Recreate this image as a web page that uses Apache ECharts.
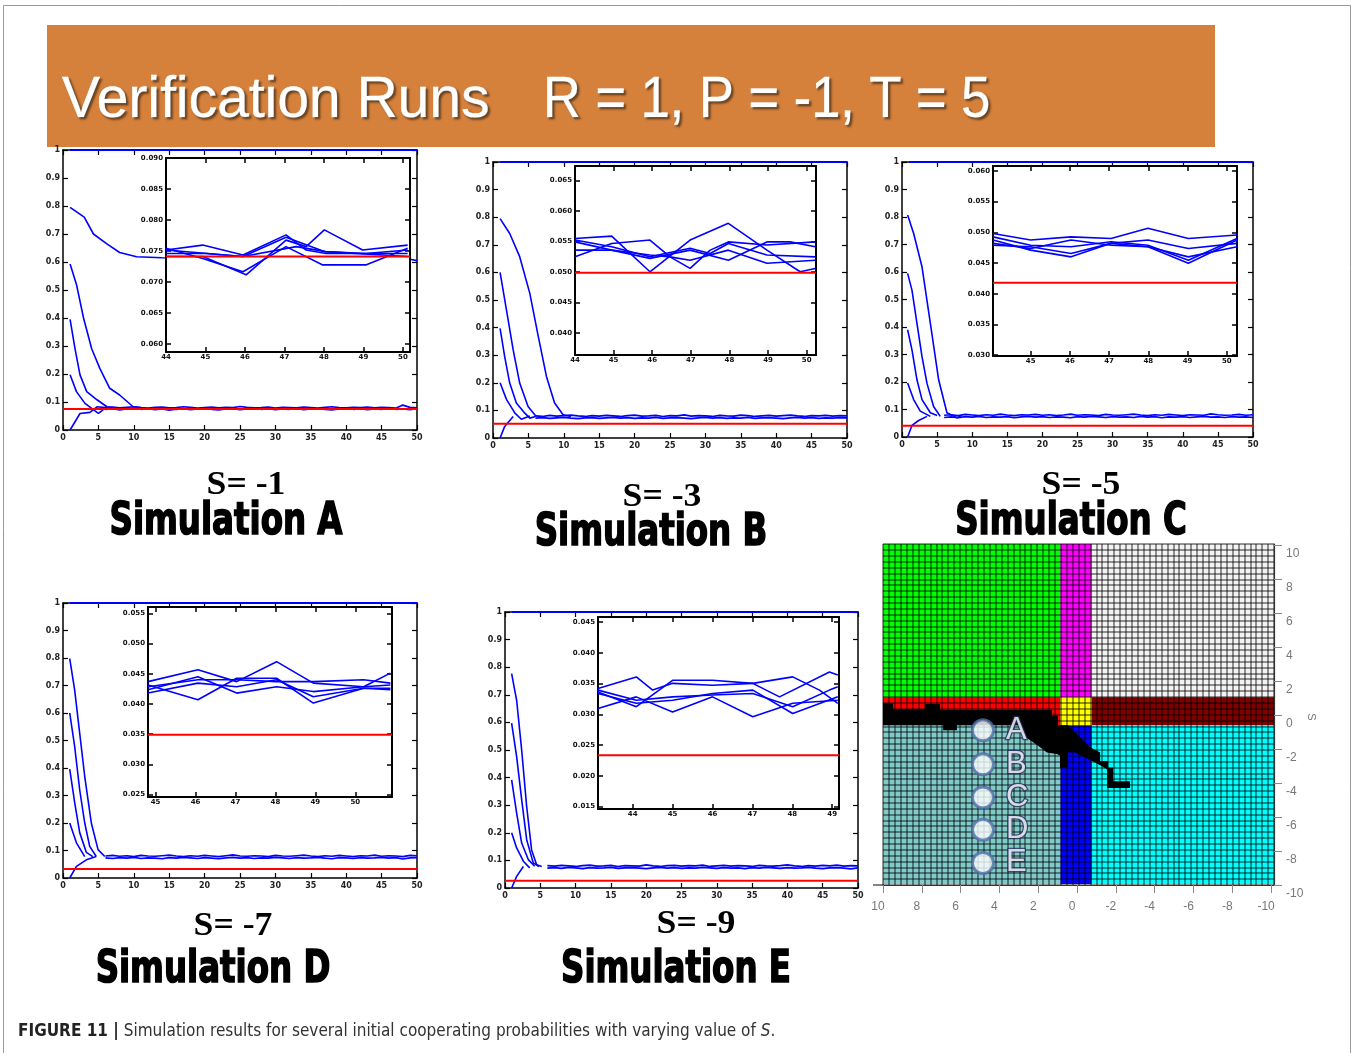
<!DOCTYPE html>
<html><head><meta charset="utf-8">
<script src="https://cdn.jsdelivr.net/npm/echarts@6/dist/echarts.min.js"></script>
<style>html,body{margin:0;padding:0;background:#fff;}#c{width:1357px;height:1053px;}</style>
</head><body><div id="c"></div>
<script>
// ---------------- DATA ----------------
const panelIds = ['A','B','C','D','E'];
const sLabels = ['S= -1','S= -3','S= -5','S= -7','S= -9'];
const simLabels = ['Simulation A','Simulation B','Simulation C','Simulation D','Simulation E'];
const redMain = [0.075, 0.052, 0.041, 0.033, 0.026];
const redInset = [2.82, 1.97, 2.36, 1.98, 1.67];
const topLine = [[1,1],[50,1]];
const tailStart = 6;

const curvesA = [
  [[1,0.795],[3,0.76],[4.3,0.70],[6.2,0.665],[8,0.634],[10.4,0.619],[14,0.615],[49,0.61],[50,0.605]],
  [[1,0.593],[1.9,0.52],[2.9,0.40],[4.05,0.29],[5.2,0.22],[6.6,0.149],[8,0.125],[9.9,0.083],[11,0.08]],
  [[1,0.395],[1.7,0.29],[2.4,0.197],[3.35,0.137],[4.8,0.108],[6.2,0.083],[7,0.08]],
  [[1,0.197],[1.9,0.137],[3.1,0.095],[5,0.059],[6.2,0.083]],
  [[1,0],[2.4,0.059],[3.8,0.063],[4.8,0.083],[6,0.08]]
];
const curvesB = [
  [[1,0.795],[2.36,0.741],[3.77,0.657],[5.2,0.524],[6.4,0.367],[7.55,0.223],[8.7,0.127],[9.9,0.084],[11,0.078]],
  [[1,0.6],[1.9,0.464],[2.85,0.319],[3.77,0.199],[4.95,0.114],[6.1,0.078]],
  [[1,0.397],[1.65,0.295],[2.36,0.199],[3.3,0.127],[4.5,0.09],[5.2,0.072],[6,0.078]],
  [[1,0.2],[1.9,0.14],[3.1,0.09],[4,0.068],[5.2,0.08]],
  [[1,0],[1.65,0.042],[2.85,0.078]]
];
const curvesC = [
  [[0.8,0.807],[1.66,0.74],[2.85,0.619],[4.04,0.413],[5.22,0.208],[6.4,0.088],[7.83,0.07],[8.5,0.078]],
  [[0.8,0.595],[1.42,0.534],[2.13,0.413],[2.85,0.292],[3.56,0.195],[4.5,0.111],[5.45,0.075]],
  [[0.8,0.39],[1.42,0.317],[2.13,0.208],[2.85,0.136],[4.04,0.088],[5,0.078]],
  [[0.8,0.196],[1.66,0.136],[2.6,0.094],[4.04,0.075]],
  [[0.8,0],[1.42,0.042],[2.37,0.06],[3.56,0.075]]
];
const curvesD = [
  [[0.95,0.798],[1.65,0.683],[2.36,0.526],[3.07,0.369],[4.0,0.2],[4.95,0.103],[5.9,0.078]],
  [[0.95,0.6],[1.65,0.478],[2.36,0.32],[3.07,0.2],[3.77,0.115],[4.7,0.078]],
  [[0.95,0.396],[1.65,0.274],[2.36,0.165],[3.3,0.093],[4.2,0.078]],
  [[0.95,0.2],[1.9,0.128],[3.07,0.078]],
  [[0.95,0],[1.9,0.042],[3.3,0.066],[4.7,0.078]]
];
const curvesE = [
  [[0.94,0.777],[1.65,0.68],[2.36,0.5],[3.07,0.295],[3.77,0.138],[4.48,0.084],[5.2,0.078]],
  [[0.94,0.597],[1.65,0.476],[2.36,0.32],[3.07,0.175],[4.0,0.091],[4.8,0.078]],
  [[0.94,0.392],[1.65,0.271],[2.36,0.163],[3.3,0.103],[4.2,0.079]],
  [[0.94,0.2],[1.65,0.145],[2.6,0.097],[3.5,0.073]],
  [[0.94,0],[1.65,0.042],[2.6,0.078]]
];

const tailA1 = [0.080,0.082,0.079,0.081,0.083,0.080,0.078,0.081,0.082,0.079,0.080,0.083,0.081,0.078,0.080,0.082,0.079,0.081,0.080,0.084,0.081,0.079,0.080,0.082,0.078,0.081,0.080,0.079,0.082,0.080,0.078,0.081,0.083,0.080,0.079,0.081,0.080,0.082,0.079,0.081,0.080,0.078,0.089,0.081,0.079];
const tailA2 = [0.074,0.076,0.072,0.075,0.077,0.074,0.076,0.073,0.075,0.071,0.074,0.076,0.073,0.075,0.077,0.074,0.072,0.075,0.076,0.073,0.075,0.077,0.074,0.076,0.073,0.075,0.074,0.077,0.073,0.075,0.076,0.074,0.072,0.075,0.077,0.074,0.076,0.073,0.075,0.074,0.077,0.074,0.075,0.073,0.076];
const tailB1 = [0.080,0.078,0.082,0.079,0.081,0.083,0.080,0.078,0.081,0.079,0.082,0.080,0.078,0.081,0.083,0.079,0.080,0.082,0.078,0.081,0.080,0.084,0.079,0.081,0.080,0.078,0.082,0.080,0.079,0.083,0.081,0.078,0.080,0.082,0.079,0.081,0.083,0.080,0.078,0.081,0.080,0.082,0.079,0.081,0.080];
const tailB2 = [0.072,0.074,0.071,0.073,0.075,0.072,0.070,0.073,0.074,0.071,0.073,0.075,0.072,0.074,0.071,0.073,0.072,0.075,0.071,0.073,0.074,0.072,0.070,0.073,0.075,0.072,0.074,0.071,0.073,0.072,0.075,0.071,0.073,0.074,0.072,0.070,0.073,0.075,0.072,0.074,0.071,0.073,0.072,0.074,0.073];
const tailC1 = [0.079,0.081,0.078,0.082,0.080,0.078,0.081,0.079,0.083,0.080,0.078,0.081,0.080,0.082,0.079,0.081,0.078,0.080,0.083,0.079,0.081,0.080,0.078,0.082,0.080,0.079,0.081,0.083,0.080,0.078,0.081,0.079,0.082,0.080,0.078,0.081,0.080,0.079,0.084,0.081,0.079,0.080,0.082,0.079,0.081];
const tailC2 = [0.071,0.073,0.070,0.074,0.072,0.075,0.071,0.073,0.072,0.074,0.070,0.073,0.075,0.072,0.074,0.071,0.073,0.072,0.070,0.074,0.072,0.075,0.073,0.071,0.074,0.072,0.073,0.071,0.075,0.072,0.074,0.070,0.073,0.072,0.074,0.071,0.073,0.075,0.072,0.073,0.071,0.074,0.072,0.073,0.071];
const tailD1 = [0.080,0.082,0.079,0.081,0.078,0.082,0.080,0.079,0.081,0.083,0.080,0.078,0.081,0.079,0.082,0.080,0.078,0.081,0.084,0.080,0.079,0.081,0.080,0.078,0.082,0.080,0.079,0.081,0.083,0.080,0.078,0.081,0.079,0.082,0.080,0.078,0.081,0.080,0.083,0.079,0.081,0.080,0.078,0.082,0.081];
const tailD2 = [0.073,0.071,0.074,0.072,0.075,0.071,0.073,0.072,0.070,0.074,0.072,0.075,0.073,0.071,0.074,0.072,0.070,0.073,0.075,0.072,0.074,0.071,0.073,0.072,0.075,0.073,0.071,0.074,0.072,0.073,0.075,0.072,0.070,0.074,0.073,0.071,0.074,0.072,0.073,0.075,0.072,0.074,0.069,0.073,0.074];
const tailE1 = [0.081,0.079,0.082,0.080,0.078,0.081,0.083,0.079,0.080,0.082,0.078,0.081,0.080,0.079,0.084,0.080,0.078,0.081,0.082,0.079,0.081,0.080,0.083,0.078,0.080,0.082,0.079,0.081,0.080,0.078,0.082,0.080,0.079,0.081,0.084,0.080,0.078,0.081,0.079,0.082,0.080,0.083,0.079,0.081,0.080];
const tailE2 = [0.072,0.074,0.071,0.075,0.073,0.070,0.074,0.072,0.073,0.075,0.071,0.073,0.074,0.072,0.070,0.073,0.075,0.072,0.074,0.071,0.073,0.072,0.075,0.073,0.071,0.074,0.072,0.073,0.070,0.074,0.072,0.075,0.073,0.071,0.074,0.072,0.073,0.075,0.072,0.070,0.073,0.074,0.072,0.069,0.073];

// inset lines, in inset tick units [x, y]
const insetA = [
  [[0,3.03],[0.93,3.19],[1.95,2.87],[3.04,3.52],[3.55,3.03],[4.05,2.92],[5.06,2.92],[6.12,3.03]],
  [[0,2.82],[0.93,2.82],[2.03,2.23],[3.04,3.35],[3.55,3.14],[4.01,3.68],[4.98,3.03],[6.12,3.19]],
  [[0,3.09],[0.93,2.76],[1.95,2.33],[3.04,3.14],[3.97,2.55],[5.06,2.55],[6.12,3.09]],
  [[0,2.92],[1.02,2.92],[1.95,2.82],[3.04,3.44],[4.01,2.98],[5.06,2.92],[6.12,2.92]],
  [[0,3.03],[1.95,2.82],[3.3,3.14],[4.05,2.98],[6.12,2.82]]
];
const insetB = [
  [[0,3.09],[0.95,3.17],[1.94,2.0],[2.98,3.04],[3.97,3.59],[4.97,2.71],[5.83,2.0],[6.22,2.11]],
  [[0,2.49],[0.95,2.93],[1.94,3.04],[2.46,2.49],[2.98,2.11],[3.5,2.71],[3.97,2.98],[4.97,2.88],[6.22,2.98]],
  [[0,2.71],[0.95,2.71],[1.94,2.44],[2.98,2.71],[3.97,2.38],[4.97,2.98],[5.57,2.98],[6.22,2.82]],
  [[0,3.04],[0.95,2.82],[1.94,2.49],[2.98,2.77],[3.5,2.6],[3.97,2.93],[4.97,2.55],[6.22,2.49]],
  [[0,2.98],[0.95,2.71],[1.94,2.55],[2.46,2.49],[2.98,2.38],[3.97,2.71],[4.97,2.28],[6.22,2.38]]
];
const insetC = [
  [[-0.96,3.96],[0,3.75],[1.03,3.85],[2.05,3.8],[2.99,4.13],[4.02,3.8],[5.26,3.91]],
  [[-0.96,3.85],[0,3.58],[1.03,3.53],[2.05,3.69],[2.99,3.58],[4.02,3.09],[5.26,3.8]],
  [[-0.96,3.75],[0,3.42],[1.03,3.2],[2.05,3.64],[2.99,3.75],[4.02,3.47],[5.26,3.64]],
  [[-0.96,3.58],[0,3.53],[1.03,3.31],[2.05,3.64],[2.99,3.53],[4.02,2.99],[5.26,3.75]],
  [[-0.96,3.64],[0,3.47],[1.03,3.75],[2.05,3.58],[2.99,3.53],[4.02,3.2],[5.26,3.53]]
];
const insetD = [
  [[-0.19,3.74],[1.06,4.13],[2.03,3.74],[3.03,4.4],[3.95,3.69],[5.21,3.57],[5.88,4.02]],
  [[-0.19,3.63],[1.06,3.14],[2.03,3.85],[3.03,3.85],[3.95,3.03],[5.21,3.52],[5.88,3.47]],
  [[-0.19,3.47],[1.06,3.9],[2.03,3.36],[3.03,3.57],[3.95,3.41],[5.21,3.57],[5.88,3.63]],
  [[-0.19,3.57],[1.06,3.8],[2.03,3.8],[3.03,3.74],[3.95,3.74],[5.21,3.8],[5.88,3.69]],
  [[-0.19,3.36],[1.06,3.69],[2.03,3.57],[3.03,3.8],[3.95,3.24],[5.21,3.52],[5.88,3.52]]
];
const insetE = [
  [[0.13,3.84],[1.09,4.22],[1.5,3.79],[2.0,4.01],[3.0,3.95],[4.01,4.01],[4.68,3.57],[5.93,4.38],[6.14,4.28]],
  [[0.13,3.73],[1.09,3.25],[2.0,4.11],[3.0,4.11],[4.01,4.01],[5.01,4.22],[5.68,3.79],[6.14,3.36]],
  [[0.13,3.19],[1.09,3.57],[2.0,3.08],[3.0,3.57],[4.01,2.92],[5.01,3.36],[6.14,3.46]],
  [[0.13,3.79],[1.09,3.46],[2.0,3.57],[3.0,3.63],[4.01,3.68],[5.01,3.25],[5.93,3.79],[6.14,3.9]],
  [[0.13,3.68],[1.09,3.36],[2.0,3.46],[3.0,3.68],[4.01,3.79],[5.01,3.03],[6.14,3.57]]
];
const insetXTickVals = [[0,1,2,3,4,5,6],[0,1,2,3,4,5,6],[0,1,2,3,4,5],[0,1,2,3,4,5],[1,2,3,4,5,6]];
const insetYTickVals = [[0,1,2,3,4,5,6],[0,1,2,3,4,5],[0,1,2,3,4,5,6],[0,1,2,3,4,5,6],[0,1,2,3,4,5,6]];
const insetXLabels = [
  ['44','45','46','47','48','49','50'],
  ['44','45','46','47','48','49','50'],
  ['45','46','47','48','49','50'],
  ['45','46','47','48','49','50'],
  ['44','45','46','47','48','49','50']
];
const insetYLabels = [
  ['0.060','0.065','0.070','0.075','0.080','0.085','0.090'],
  ['0.040','0.045','0.050','0.055','0.060','0.065'],
  ['0.030','0.035','0.040','0.045','0.050','0.055','0.060'],
  ['0.025','0.030','0.035','0.040','0.045','0.050','0.055'],
  ['0.015','0.020','0.025','0.030','0.035','0.040','0.045']
];

// phase diagram (bottom right)
const hmTickVals = [-10,-8,-6,-4,-2,0,2,4,6,8,10];
const regionColors = ['#00ff00','#ff00ff','#f3f3f3','#ff0000','#ffff00','#800000','#80caca','#0000ff','#00ffff'];
const regionRects = [
  [10.0, 0.85, 1.05, 10.06, 0],
  [0.85, -0.76, 1.05, 10.06, 1],
  [-0.76, -10.15, 1.05, 10.06, 2],
  [10.0, 0.85, -0.6, 1.05, 3],
  [0.85, -0.76, -0.6, 1.05, 4],
  [-0.76, -10.15, -0.6, 1.05, 5],
  [10.0, 0.85, -9.94, -0.6, 6],
  [0.85, -0.76, -9.94, -0.6, 7],
  [-0.76, -10.15, -9.94, -0.6, 8]
];
const blackPoly = [
  [10.0,0.7],[9.48,0.7],[9.48,0.35],[7.84,0.35],[7.84,0.65],[7.06,0.65],[7.06,0.3],[1.29,0.3],[1.29,-0.05],[0.98,-0.05],[0.98,-0.6],[0.46,-0.6],[-0.67,-1.9],[-1.19,-2.2],[-1.19,-2.7],[-1.6,-2.7],[-1.6,-3.1],[-1.86,-3.1],[-1.86,-3.9],[-2.73,-3.9],
  [-2.73,-4.3],[-1.55,-4.3],[-1.55,-3.2],[-1.19,-2.95],[-0.67,-2.65],[0.1,-2.2],[0.46,-2.2],[0.46,-3.1],[0.88,-3.1],[0.88,-2.4],[1.03,-2.3],[1.55,-2.2],[2.06,-1.76],[2.58,-1.35],[3.0,-0.6],[6.19,-0.6],[6.19,-0.9],[6.9,-0.9],[6.9,-0.6],[10.0,-0.6]
];
const circlePts = [[4.85,-0.9],[4.85,-2.9],[4.85,-4.85],[4.85,-6.75],[4.85,-8.7]];
const circleLetters = ['A','B','C','D','E'];
const meshCols = 66, meshRows = 58;

// ---------------- LAYOUT ----------------
const LAYOUT = [
  {main:{left:63,top:150,width:354,height:280}, inset:{left:166,top:158,width:244,height:194}, ix:[0,6.18], iy:[-0.26,6.0], s:[246,485], sim:[226,523]},
  {main:{left:493,top:162,width:354,height:276}, inset:{left:575,top:166,width:241,height:189}, ix:[0,6.24], iy:[-0.73,5.47], s:[662,497], sim:[651,534]},
  {main:{left:902,top:162,width:351,height:275}, inset:{left:993,top:166,width:244,height:190}, ix:[-0.96,5.26], iy:[-0.03,6.16], s:[1081,485], sim:[1071,523]},
  {main:{left:63,top:603,width:354,height:275}, inset:{left:148,top:607,width:244,height:190}, ix:[-0.19,5.92], iy:[-0.08,6.21], s:[233,926], sim:[213,971]},
  {main:{left:505,top:612,width:353,height:276}, inset:{left:598,top:617,width:241,height:192}, ix:[0.13,6.17], iy:[-0.08,6.17], s:[696,924], sim:[676,971]}
];
const CURVES = [curvesA, curvesB, curvesC, curvesD, curvesE];
const TAILS = [[tailA1,tailA2],[tailB1,tailB2],[tailC1,tailC2],[tailD1,tailD2],[tailE1,tailE2]];
const INSETS = [insetA, insetB, insetC, insetD, insetE];

const grids = [], xAxes = [], yAxes = [], series = [];
const AXF = 'DejaVu Sans';
const BLUE = '#0000ff', RED = '#ff0000';

function tickAxis(base, extra){ return Object.assign({}, base, extra); }

for (let i = 0; i < 5; i++) {
  const L = LAYOUT[i];
  const g = grids.length;
  grids.push(Object.assign({}, L.main));
  const xBase = {type:'value', gridIndex:g, min:0, max:50, interval:5,
    axisLine:{show:true, onZero:false, lineStyle:{color:'#000', width:1.5}},
    axisTick:{show:true, inside:true, length:5, lineStyle:{color:'#000', width:1.2}},
    splitLine:{show:false}};
  const xi = xAxes.length;
  xAxes.push(tickAxis(xBase, {position:'bottom', axisLabel:{show:true, margin:4, fontSize:8, fontWeight:'bold', color:'#222', fontFamily:AXF}}));
  xAxes.push(tickAxis(xBase, {position:'top', axisLabel:{show:false}}));
  const yBase = {type:'value', gridIndex:g, min:0, max:1, interval:0.1,
    axisLine:{show:true, onZero:false, lineStyle:{color:'#000', width:1.5}},
    axisTick:{show:true, inside:true, length:5, lineStyle:{color:'#000', width:1.2}},
    splitLine:{show:false}};
  const yi = yAxes.length;
  yAxes.push(tickAxis(yBase, {position:'left', axisLabel:{show:true, margin:3, fontSize:8, fontWeight:'bold', color:'#222', fontFamily:AXF,
    formatter: v => (v === 0 ? '0' : (v === 1 ? '1' : v.toFixed(1)))}}));
  yAxes.push(tickAxis(yBase, {position:'right', axisLabel:{show:false}}));

  const lineS = (data, color, w, z, extra) => Object.assign({type:'line', xAxisIndex:xi, yAxisIndex:yi, data:data, showSymbol:false, symbol:'none',
    lineStyle:{color:color, width:w}, z:z, silent:true, animation:false}, extra || {});
  CURVES[i].forEach(c => series.push(lineS(c, BLUE, 1.6, 2)));
  TAILS[i].forEach(t => series.push(lineS(t.map((v,k) => [tailStart + k, v]), BLUE, 1.7, 2)));
  series.push(lineS(topLine, BLUE, 2, 3, {clip:false}));
  series.push(lineS([[0, redMain[i]],[50, redMain[i]]], RED, 2, 3));

  const gi = grids.length;
  grids.push(Object.assign({show:true, backgroundColor:'#ffffff', borderWidth:0, z:10}, L.inset));
  const ixBase = {type:'value', gridIndex:gi, min:L.ix[0], max:L.ix[1], z:11,
    axisLine:{show:true, onZero:false, lineStyle:{color:'#000', width:2}},
    axisTick:{show:true, inside:true, length:5, customValues:insetXTickVals[i], lineStyle:{color:'#000', width:1.5}},
    splitLine:{show:false}};
  const ixi = xAxes.length;
  xAxes.push(tickAxis(ixBase, {position:'bottom', axisLabel:{show:true, customValues:insetXTickVals[i], margin:2, fontSize:7, fontWeight:'bold', color:'#111', fontFamily:AXF,
    formatter: v => insetXLabels[i][insetXTickVals[i].indexOf(Math.round(v))] || ''}}));
  xAxes.push(tickAxis(ixBase, {position:'top', axisLabel:{show:false}}));
  const iyBase = {type:'value', gridIndex:gi, min:L.iy[0], max:L.iy[1], z:11,
    axisLine:{show:true, onZero:false, lineStyle:{color:'#000', width:2}},
    axisTick:{show:true, inside:true, length:5, customValues:insetYTickVals[i], lineStyle:{color:'#000', width:1.5}},
    splitLine:{show:false}};
  const iyi = yAxes.length;
  yAxes.push(tickAxis(iyBase, {position:'left', axisLabel:{show:true, customValues:insetYTickVals[i], margin:3, fontSize:7, fontWeight:'bold', color:'#111', fontFamily:AXF,
    formatter: v => insetYLabels[i][Math.round(v)] || ''}}));
  yAxes.push(tickAxis(iyBase, {position:'right', axisLabel:{show:false}}));
  INSETS[i].forEach(c => series.push({type:'line', xAxisIndex:ixi, yAxisIndex:iyi, data:c, showSymbol:false, symbol:'none',
    lineStyle:{color:BLUE, width:1.6}, z:12, silent:true, animation:false}));
  series.push({type:'line', xAxisIndex:ixi, yAxisIndex:iyi, data:[[L.ix[0], redInset[i]],[L.ix[1], redInset[i]]], showSymbol:false, symbol:'none',
    lineStyle:{color:RED, width:2}, z:13, silent:true, animation:false});
}

// phase diagram grid
const hg = grids.length;
grids.push({left:883, top:544, width:391, height:341});
const hx = xAxes.length;
xAxes.push({type:'value', gridIndex:hg, position:'bottom', min:-10.15, max:10, inverse:true, z:6,
  axisLine:{show:true, onZero:false, lineStyle:{color:'#333', width:1.2}},
  axisTick:{show:true, inside:false, length:8, customValues:hmTickVals, lineStyle:{color:'#888', width:1}},
  axisLabel:{show:true, customValues:hmTickVals, color:'#777', fontSize:12, margin:16, padding:[0,10,0,0], fontFamily:'Liberation Sans', formatter: v => String(v)},
  splitLine:{show:false}});
xAxes.push({type:'value', gridIndex:hg, position:'top', min:0, max:meshCols, interval:1, z:5,
  axisLine:{show:false}, axisTick:{show:false}, axisLabel:{show:false},
  splitLine:{show:true, lineStyle:{color:'rgba(0,0,0,0.55)', width:1.5}}});
const hy = yAxes.length;
yAxes.push({type:'value', gridIndex:hg, position:'right', min:-10, max:10.06, z:6,
  axisLine:{show:true, onZero:false, lineStyle:{color:'#333', width:1.2}},
  axisTick:{show:true, inside:false, length:8, customValues:hmTickVals, lineStyle:{color:'#888', width:1}},
  axisLabel:{show:true, customValues:hmTickVals, color:'#777', fontSize:12, margin:12, verticalAlign:'top', padding:[3,0,0,0], fontFamily:'Liberation Sans', formatter: v => String(v)},
  splitLine:{show:false}});
yAxes.push({type:'value', gridIndex:hg, position:'left', min:0, max:meshRows, interval:1, z:5,
  axisLine:{show:false}, axisTick:{show:false}, axisLabel:{show:false},
  splitLine:{show:true, lineStyle:{color:'rgba(0,0,0,0.55)', width:1.5}}});

series.push({type:'custom', xAxisIndex:hx, yAxisIndex:hy, data:regionRects, z:2, silent:true, animation:false,
  renderItem: (params, api) => {
    const a = api.coord([api.value(0), api.value(3)]);
    const b = api.coord([api.value(1), api.value(2)]);
    return {type:'rect', shape:{x:Math.min(a[0],b[0]), y:Math.min(a[1],b[1]), width:Math.abs(b[0]-a[0]), height:Math.abs(b[1]-a[1])},
      style:{fill: regionColors[api.value(4)]}};
  }});
series.push({type:'custom', xAxisIndex:hx, yAxisIndex:hy, data:blackPoly, z:3, silent:true, animation:false,
  renderItem: (params, api) => {
    if (params.dataIndex !== 0) return null;
    return {type:'polygon', shape:{points: blackPoly.map(p => api.coord(p))}, style:{fill:'#000'}};
  }});
series.push({type:'scatter', xAxisIndex:hx, yAxisIndex:hy, data:circlePts, symbol:'circle', symbolSize:21, z:20, silent:true, animation:false,
  itemStyle:{color:'#ffffff', borderColor:'#4f6ea6', borderWidth:3},
  label:{show:true, position:'right', distance:11, formatter: p => circleLetters[p.dataIndex],
    fontSize:31, fontFamily:'Liberation Sans', color:'#ffffff', textBorderColor:'#26305e', textBorderWidth:2.5}});

// ---------------- GRAPHICS ----------------
const CAPF = '"Liberation Sans Narrow", "DejaVu Sans Condensed", sans-serif';
const graphic = [
  {type:'rect', silent:true, z:-10, shape:{x:3.5, y:5.5, width:1347, height:1200}, style:{fill:'none', stroke:'#999', lineWidth:1}},
  {type:'rect', silent:true, shape:{x:47, y:25, width:1168, height:122}, style:{fill:'#d5813c'}},
  {type:'text', silent:true, x:62, y:101, style:{text:'Verification Runs', font:'57px "Liberation Sans", Arial, sans-serif', fill:'#ffffff', verticalAlign:'middle',
    stroke:'#ffffff', lineWidth:0.6,
    textShadowColor:'rgba(60,40,20,0.7)', textShadowBlur:2, textShadowOffsetX:2, textShadowOffsetY:2}},
  {type:'text', silent:true, x:543, y:101, scaleX:0.92, style:{text:'R = 1, P = -1, T = 5', font:'57px "Liberation Sans", Arial, sans-serif', fill:'#ffffff', verticalAlign:'middle',
    stroke:'#ffffff', lineWidth:0.6,
    textShadowColor:'rgba(60,40,20,0.7)', textShadowBlur:2, textShadowOffsetX:2, textShadowOffsetY:2}},
  {type:'line', silent:true, shape:{x1:873, y1:885, x2:884, y2:885}, style:{stroke:'#333', lineWidth:1.2}},
  {type:'text', silent:true, x:1311, y:717, rotation:-Math.PI/2, style:{text:'S', font:'11px "Liberation Sans"', fill:'#777', align:'center', verticalAlign:'middle'}},
  {type:'text', silent:true, x:18, y:1032, style:{
    text:'{b|FIGURE 11 |} Simulation results for several initial cooperating probabilities with varying value of {i|S}.',
    fontSize:17, fontFamily:CAPF, fill:'#333', verticalAlign:'middle',
    rich:{b:{fontWeight:'bold', fontSize:17, fontFamily:CAPF, fill:'#222'},
          i:{fontStyle:'italic', fontSize:17, fontFamily:CAPF, fill:'#333'}}}}
];
for (let i = 0; i < 5; i++) {
  const L = LAYOUT[i];
  graphic.push({type:'text', silent:true, x:L.s[0], y:L.s[1], scaleX:1.05, style:{text:sLabels[i], font:'bold 34px "Liberation Serif", serif', fill:'#000', align:'center', verticalAlign:'middle'}});
  graphic.push({type:'text', silent:true, x:L.sim[0], y:L.sim[1], scaleX:0.82, style:{text:simLabels[i], font:'bold 44px "Liberation Sans Narrow", "DejaVu Sans Condensed", sans-serif', fill:'#000',
    stroke:'#000', lineWidth:1.5, align:'center', verticalAlign:'middle'}});
}

const chart = echarts.init(document.getElementById('c'), null, {renderer:'canvas', width:1357, height:1053});
chart.setOption({
  backgroundColor:'#ffffff',
  animation:false,
  grid: grids,
  xAxis: xAxes,
  yAxis: yAxes,
  series: series,
  graphic: graphic
});
</script></body></html>
